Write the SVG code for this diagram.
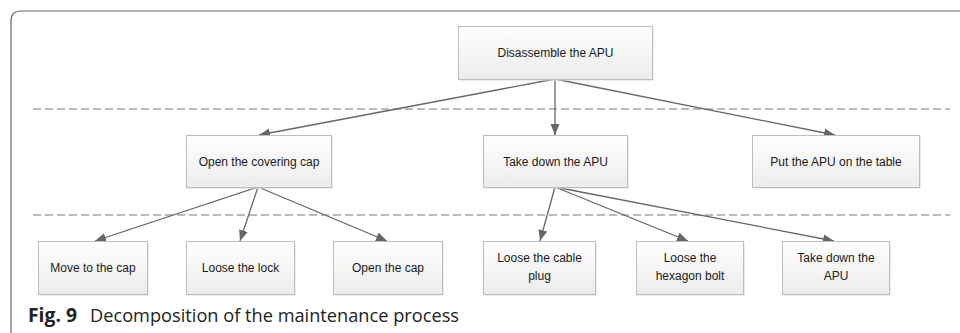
<svg xmlns="http://www.w3.org/2000/svg" width="960" height="333" viewBox="0 0 960 333">
<defs>
<linearGradient id="g" x1="0" y1="0" x2="0" y2="1">
<stop offset="0" stop-color="#ffffff"/>
<stop offset="1" stop-color="#ececec"/>
</linearGradient>
<marker id="ah" markerUnits="userSpaceOnUse" markerWidth="12" markerHeight="10" refX="11" refY="5" orient="auto">
<path d="M0,0.5 L11,5 L0,9.5 Z" fill="#666"/>
</marker>
<style>
.box{fill:url(#g);stroke:#bdbdbd;stroke-width:1}
.sh{fill:#dedede}
.t{font-family:"Liberation Sans",Arial,sans-serif;font-size:12px;fill:#1a1a1a;text-anchor:middle}
.c{stroke:#666;stroke-width:1.3;fill:none;marker-end:url(#ah)}
.d{stroke:#777;stroke-width:1;stroke-dasharray:8 4}
.cap{font-family:"Open Sans",sans-serif;font-size:19px;fill:#222}
</style>
</defs>
<rect width="960" height="333" fill="#fff"/>
<path d="M11,333 V21 Q11,11 21,11 H960" fill="none" stroke="#666" stroke-width="1.2"/>
<line class="d" x1="33" y1="109" x2="950" y2="109"/>
<line class="d" x1="33" y1="215" x2="950" y2="215"/>
<g id="connectors">
<line class="c" x1="555" y1="79" x2="259" y2="135"/>
<line class="c" x1="555" y1="79" x2="555" y2="135"/>
<line class="c" x1="555" y1="79" x2="835" y2="135"/>
<line class="c" x1="258" y1="187" x2="95" y2="241"/>
<line class="c" x1="258" y1="187" x2="240" y2="241"/>
<line class="c" x1="258" y1="187" x2="387" y2="241"/>
<line class="c" x1="555" y1="187" x2="540" y2="241"/>
<line class="c" x1="555" y1="187" x2="688" y2="241"/>
<line class="c" x1="555" y1="187" x2="834" y2="241"/>
</g>
<g id="n-disassemble"><rect class="sh" x="459.5" y="27.5" width="194" height="53"/><rect class="box" x="458.5" y="26.5" width="194" height="53"/><text class="t" x="555.5" y="57">Disassemble the APU</text></g>
<g id="n-cover"><rect class="sh" x="187.5" y="136.5" width="145" height="52"/><rect class="box" x="186.5" y="135.5" width="145" height="52"/><text class="t" x="259" y="166">Open the covering cap</text></g>
<g id="n-takedown"><rect class="sh" x="484.5" y="136.5" width="144" height="52"/><rect class="box" x="483.5" y="135.5" width="144" height="52"/><text class="t" x="555.5" y="166">Take down the APU</text></g>
<g id="n-put"><rect class="sh" x="753.5" y="136.5" width="167" height="52"/><rect class="box" x="752.5" y="135.5" width="167" height="52"/><text class="t" x="836" y="166">Put the APU on the table</text></g>
<g id="n-move"><rect class="sh" x="39.5" y="242.5" width="109" height="53"/><rect class="box" x="38.5" y="241.5" width="109" height="53"/><text class="t" x="93" y="272">Move to the cap</text></g>
<g id="n-lock"><rect class="sh" x="187.5" y="242.5" width="108" height="53"/><rect class="box" x="186.5" y="241.5" width="108" height="53"/><text class="t" x="240.5" y="272">Loose the lock</text></g>
<g id="n-open"><rect class="sh" x="334.5" y="242.5" width="109" height="53"/><rect class="box" x="333.5" y="241.5" width="109" height="53"/><text class="t" x="388" y="272">Open the cap</text></g>
<g id="n-cable"><rect class="sh" x="484.5" y="242.5" width="112" height="53"/><rect class="box" x="483.5" y="241.5" width="112" height="53"/><text class="t" x="539.5" y="262">Loose the cable</text><text class="t" x="539.5" y="280">plug</text></g>
<g id="n-hex"><rect class="sh" x="637.5" y="242.5" width="107" height="53"/><rect class="box" x="636.5" y="241.5" width="107" height="53"/><text class="t" x="690" y="262">Loose the</text><text class="t" x="690" y="280">hexagon bolt</text></g>
<g id="n-take2"><rect class="sh" x="783.5" y="242.5" width="107" height="53"/><rect class="box" x="782.5" y="241.5" width="107" height="53"/><text class="t" x="836" y="262">Take down the</text><text class="t" x="836" y="280">APU</text></g>
<text class="cap" y="322"><tspan x="28" font-weight="bold" textLength="49" lengthAdjust="spacingAndGlyphs">Fig. 9</tspan><tspan x="90" textLength="369" lengthAdjust="spacingAndGlyphs">Decomposition of the maintenance process</tspan></text>
</svg>
